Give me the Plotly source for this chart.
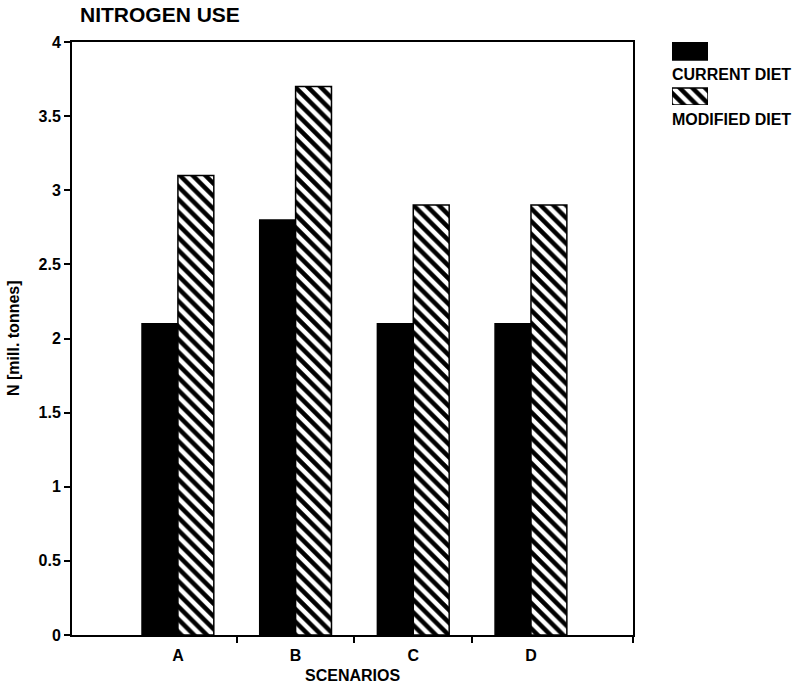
import plotly.graph_objects as go

# ---- data ----
scenarios = ["A", "B", "C", "D"]
current_diet = [2.1, 2.8, 2.1, 2.1]
modified_diet = [3.1, 3.7, 2.9, 2.9]
y_ticks = [0, 0.5, 1, 1.5, 2, 2.5, 3, 3.5, 4]

# ---- layout geometry (pixels) ----
W, H = 801, 686
ML, MR, MT, MB = 72, 10, 42, 51
PW = W - ML - MR          # plotting region width
PH = H - MT - MB          # plotting region height
MAIN_RIGHT = 633          # right edge of the bar panel


def px_x(x):
    return (x - ML) / PW


def px_y(y):
    return (H - MB - y) / PH


FONT = "Liberation Sans, Arial"
BLACK = "#000000"
HATCH = dict(shape="\\", fgcolor=BLACK, bgcolor="white", fgopacity=1,
             size=9, solidity=0.5, fillmode="replace")

xs = list(range(len(scenarios)))

fig = go.Figure()

fig.add_trace(go.Bar(
    x=xs, y=current_diet, name="CURRENT DIET",
    marker=dict(color=BLACK, line=dict(color=BLACK, width=1.5)),
    showlegend=False,
))
fig.add_trace(go.Bar(
    x=xs, y=modified_diet, name="MODIFIED DIET",
    marker=dict(color="white", line=dict(color=BLACK, width=1.5),
                pattern=HATCH),
    showlegend=False,
))

# legend swatches, drawn on a small auxiliary axis pair
fig.add_trace(go.Bar(
    x=[0], y=[18], base=[45], width=[1], offset=0,
    xaxis="x2", yaxis="y2", showlegend=False, hoverinfo="skip",
    marker=dict(color=BLACK, line=dict(color=BLACK, width=1.5)),
))
fig.add_trace(go.Bar(
    x=[0], y=[17], base=[0], width=[1], offset=0,
    xaxis="x2", yaxis="y2", showlegend=False, hoverinfo="skip",
    marker=dict(color="white", line=dict(color=BLACK, width=1.5),
                pattern=HATCH),
))

x_lo, x_hi = -0.9, 3.867

fig.update_layout(
    width=W, height=H,
    margin=dict(l=ML, r=MR, t=MT, b=MB),
    paper_bgcolor="white", plot_bgcolor="white",
    barmode="group", bargap=0.39, bargroupgap=0,
    font=dict(family=FONT, color=BLACK, size=16, weight="bold"),
    title=dict(text="NITROGEN USE", x=80 / W, xanchor="left",
               y=1 - 15 / H, yanchor="middle",
               font=dict(family=FONT, size=21, weight="bold", color=BLACK)),
    xaxis=dict(
        domain=[0, px_x(MAIN_RIGHT)], range=[x_lo, x_hi],
        tickvals=xs, ticktext=scenarios, ticks="",
        tickfont=dict(family=FONT, size=16, weight="bold"),
        ticklabelstandoff=5,
        showline=True, linecolor=BLACK, linewidth=2, mirror=True,
        showgrid=False, zeroline=False,
        minor=dict(tickmode="array", tickvals=[0.5, 1.5, 2.5, x_hi],
                   ticks="outside", ticklen=6, tickwidth=2, tickcolor=BLACK,
                   showgrid=False),
    ),
    yaxis=dict(
        range=[0, 4], tickvals=y_ticks, ticks="outside", ticklen=6,
        tickwidth=2, tickcolor=BLACK,
        tickfont=dict(family=FONT, size=16, weight="bold"),
        showline=True, linecolor=BLACK, linewidth=2, mirror=True,
        showgrid=False, zeroline=False,
    ),
    xaxis2=dict(domain=[px_x(672), px_x(708)], range=[0, 1], anchor="y2",
                visible=False, fixedrange=True),
    yaxis2=dict(domain=[px_y(105), 1], range=[0, 63], anchor="x2",
                visible=False, fixedrange=True),
    annotations=[
        dict(text="N [mill. tonnes]", xref="paper", yref="paper",
             x=px_x(13), y=px_y(338), textangle=-90, showarrow=False,
             xanchor="center", yanchor="middle",
             font=dict(family=FONT, size=16, weight="bold")),
        dict(text="SCENARIOS", xref="paper", yref="paper",
             x=px_x(352), y=px_y(676), showarrow=False,
             xanchor="center", yanchor="middle",
             font=dict(family=FONT, size=16, weight="bold")),
        dict(text="CURRENT DIET", xref="paper", yref="paper",
             x=px_x(670), y=px_y(74), showarrow=False,
             xanchor="left", yanchor="middle",
             font=dict(family=FONT, size=16, weight="bold")),
        dict(text="MODIFIED DIET", xref="paper", yref="paper",
             x=px_x(670), y=px_y(119), showarrow=False,
             xanchor="left", yanchor="middle",
             font=dict(family=FONT, size=16, weight="bold")),
    ],
)

fig.write_html("out.html")
